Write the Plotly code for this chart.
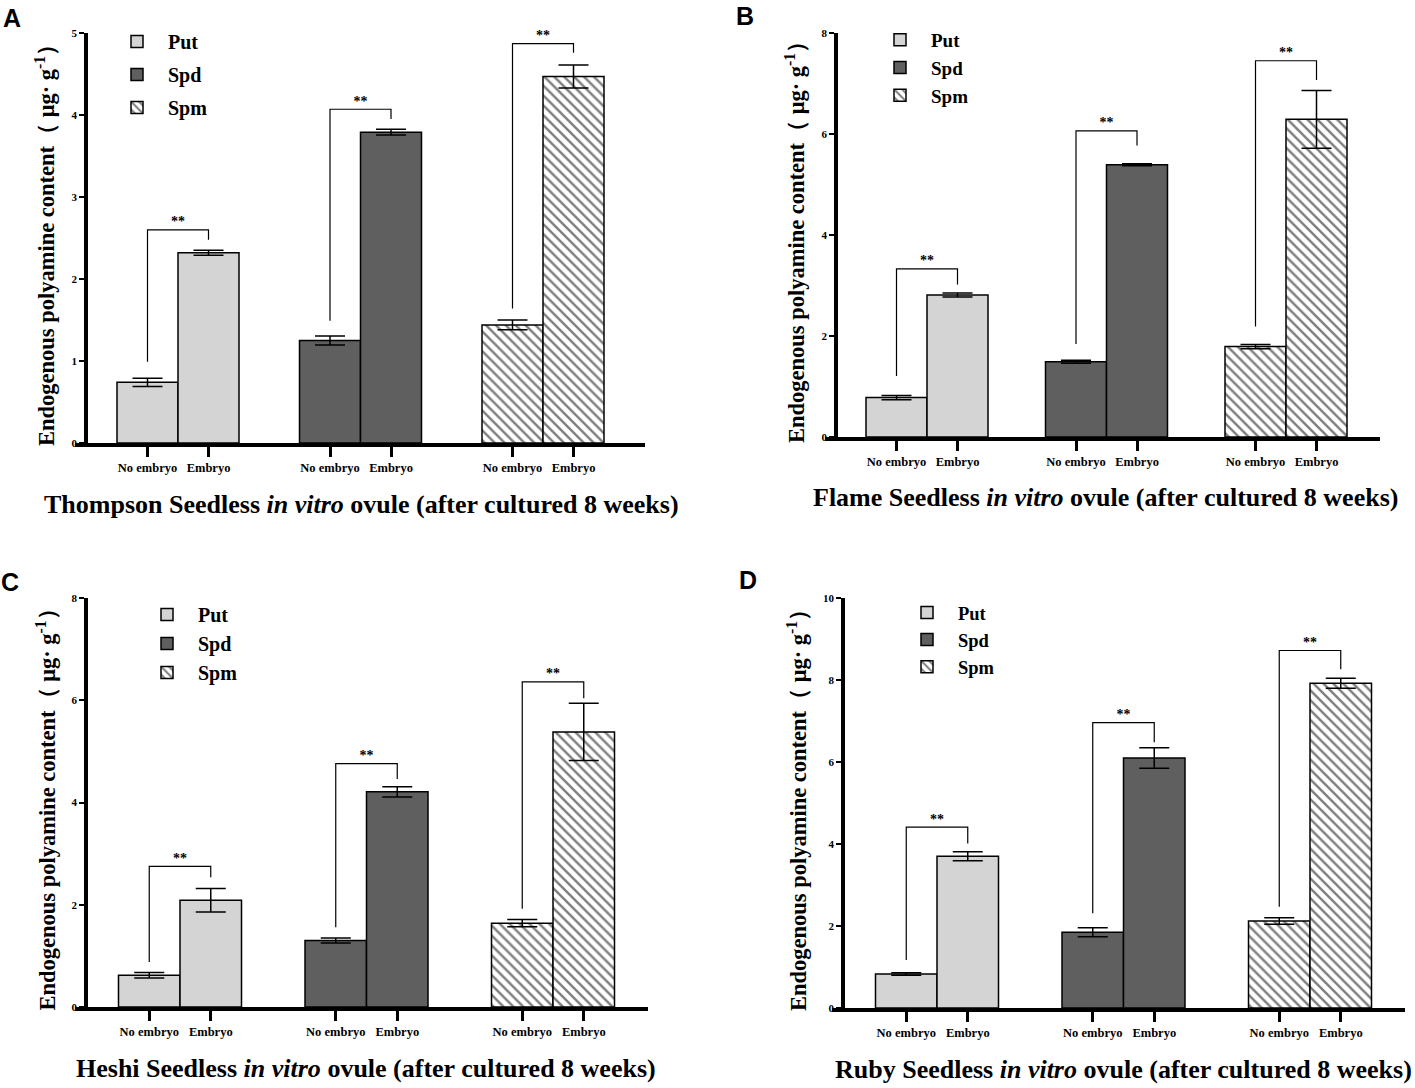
import plotly.graph_objects as go

# ---------------- data ----------------
conditions = ["No embryo", "Embryo"]
amines = ["Put", "Spd", "Spm"]
panel_letters = ["A", "B", "C", "D"]
cultivars = ["Thompson", "Flame", "Heshi", "Ruby"]
y_max = [5, 8, 8, 10]
y_dtick = [1, 2, 2, 2]

# [panel] -> [no embryo, embryo]
put_mean = [[0.74, 2.32], [0.78, 2.81], [0.62, 2.09], [0.83, 3.70]]
put_err = [[0.05, 0.03], [0.04, 0.04], [0.055, 0.23], [0.03, 0.11]]
spd_mean = [[1.25, 3.79], [1.49, 5.39], [1.30, 4.21], [1.85, 6.10]]
spd_err = [[0.055, 0.035], [0.03, 0.02], [0.05, 0.10], [0.11, 0.25]]
spm_mean = [[1.44, 4.47], [1.79, 6.29], [1.64, 5.38], [2.12, 7.92]]
spm_err = [[0.06, 0.14], [0.04, 0.57], [0.07, 0.56], [0.08, 0.12]]

# significance brackets: [top, left-leg bottom, right-leg bottom]
put_bracket = [[2.60, 0.99, 2.48], [3.33, 1.21, 3.02], [2.75, 0.88, 2.54], [4.41, 1.17, 4.01]]
spd_bracket = [[4.07, 1.49, 3.95], [6.06, 1.84, 5.77], [4.76, 1.56, 4.46], [6.96, 2.31, 6.48]]
spm_bracket = [[4.87, 1.64, 4.76], [7.45, 2.19, 7.07], [6.36, 1.92, 6.04], [8.72, 2.47, 8.26]]
sig_label = "**"

means = [put_mean, spd_mean, spm_mean]
errs = [put_err, spd_err, spm_err]
brackets = [put_bracket, spd_bracket, spm_bracket]

# ---------------- layout geometry (pixels) ----------------
W, H = 1415, 1088
# xl/xr: x-axis line extent, yx: y-axis x position, yt/yb: y extent,
# c0: centre of first group, sp: group spacing, bw: bar width (px)
geom = [
    dict(xl=75, xr=645, yx=86, yt=33, yb=443, c0=178, sp=182.5, bw=61,
         ytitle_x=45, xtitle=(361, 504), leg=(106, 22), letter=(12, 18)),
    dict(xl=825, xr=1380, yx=836, yt=33, yb=437, c0=927, sp=179.5, bw=61,
         ytitle_x=795, xtitle=(1105, 497), leg=(869, 21), letter=(745, 16)),
    dict(xl=75, xr=648, yx=86, yt=598, yb=1007, c0=180, sp=186.5, bw=61.5,
         ytitle_x=45, xtitle=(366, 1068), leg=(136, 595), letter=(10, 582)),
    dict(xl=832, xr=1405, yx=843, yt=598, yb=1008, c0=937, sp=186.5, bw=61.5,
         ytitle_x=797, xtitle=(1123, 1069), leg=(896, 594), letter=(748, 580)),
]
leg_gap = [4, 0, 0, 0]
leg_size = [20, 19, 20, 18.5]

def px(x):
    return x / W

def py(y):
    return 1 - y / H

SERIF = "Liberation Serif, Times New Roman, serif"
fills = ["#d4d4d4", "#5f5f5f", "white"]

fig = go.Figure()
layout = dict(
    width=W, height=H, margin=dict(l=0, r=0, t=0, b=0, autoexpand=False),
    paper_bgcolor="white", plot_bgcolor="white", showlegend=True,
    font=dict(family=SERIF, color="black"),
)
annotations = []

for p in range(4):
    g = geom[p]
    sfx = "" if p == 0 else str(p + 1)
    xa, ya = "x" + sfx, "y" + sfx
    legname = "legend" + sfx
    bar_w = g["bw"] / g["sp"]
    xrange = [(g["xl"] - g["c0"]) / g["sp"], (g["xr"] - g["c0"]) / g["sp"]]
    tickvals, ticktext = [], []
    for a in range(3):
        xs = [a - bar_w / 2, a + bar_w / 2]
        tickvals += xs
        ticktext += conditions
        marker = dict(color=fills[a], line=dict(color="black", width=1.5))
        if a == 2:
            marker["pattern"] = dict(shape="\\", fgcolor="black", bgcolor="white", size=7, solidity=0.35)
        fig.add_trace(go.Bar(
            x=xs, y=means[a][p], width=bar_w, name=amines[a], marker=marker,
            error_y=dict(type="data", array=errs[a][p], color="black", thickness=1.5, width=15),
            xaxis=xa, yaxis=ya, legend=legname, legendgroup=f"{p}-{a}", showlegend=True,
            hoverinfo="skip",
        ))
        top, lb, rb = brackets[a][p]
        fig.add_trace(go.Scatter(
            x=[xs[0], xs[0], xs[1], xs[1]], y=[lb, top, top, rb], mode="lines",
            line=dict(color="black", width=1.2), xaxis=xa, yaxis=ya,
            showlegend=False, hoverinfo="skip", cliponaxis=False,
        ))
        fig.add_trace(go.Scatter(
            x=[a], y=[top], mode="text", text=[sig_label], textposition="top center",
            textfont=dict(family=SERIF, size=14, color="black", weight="bold"),
            xaxis=xa, yaxis=ya, showlegend=False, hoverinfo="skip", cliponaxis=False,
        ))
    layout["xaxis" + sfx] = dict(
        domain=[px(g["xl"]), px(g["xr"])], anchor=ya, range=xrange,
        showline=True, linecolor="black", linewidth=4, showgrid=False, zeroline=False,
        ticks="outside", ticklen=10, tickwidth=3, tickcolor="black",
        tickmode="array", tickvals=tickvals, ticktext=ticktext,
        tickfont=dict(family=SERIF, size=12.5, color="black", weight="bold"),
        automargin=False,
    )
    layout["yaxis" + sfx] = dict(
        domain=[py(g["yb"]), py(g["yt"])], anchor="free", position=px(g["yx"]),
        range=[0, y_max[p]],
        showline=True, linecolor="black", linewidth=3.5, showgrid=False, zeroline=False,
        ticks="outside", ticklen=5, tickwidth=2, tickcolor="black", dtick=y_dtick[p],
        tickfont=dict(family=SERIF, size=11, color="black", weight="bold"),
        automargin=False,
    )
    layout[legname] = dict(
        x=px(g["leg"][0]), y=py(g["leg"][1]), xanchor="left", yanchor="top",
        bgcolor="rgba(0,0,0,0)", tracegroupgap=leg_gap[p], itemwidth=52,
        font=dict(family=SERIF, size=leg_size[p], color="black", weight="bold"),
    )
    annotations.append(dict(
        text="Endogenous polyamine content（ μg· g<sup>-1</sup>）", textangle=-90,
        x=px(g["ytitle_x"]), y=py((g["yt"] + g["yb"]) / 2 + 2), xref="paper", yref="paper",
        xanchor="center", yanchor="middle",
        showarrow=False, font=dict(family=SERIF, size=22.5, color="black", weight="bold"),
    ))
    annotations.append(dict(
        text=f"{cultivars[p]} Seedless <i>in vitro</i> ovule (after cultured 8 weeks)",
        x=px(g["xtitle"][0]), y=py(g["xtitle"][1]), xref="paper", yref="paper",
        xanchor="center", yanchor="middle",
        showarrow=False, font=dict(family=SERIF, size=26, color="black", weight="bold"),
    ))
    annotations.append(dict(
        text=panel_letters[p], x=px(g["letter"][0]), y=py(g["letter"][1]),
        xref="paper", yref="paper", showarrow=False, xanchor="center", yanchor="middle",
        font=dict(family="Liberation Sans, Arial, sans-serif", size=25, color="black", weight="bold"),
    ))

layout["annotations"] = annotations
fig.update_layout(**layout)
fig.write_html("out.html", config={"displayModeBar": False},
               post_script="document.body.style.margin='0';")
